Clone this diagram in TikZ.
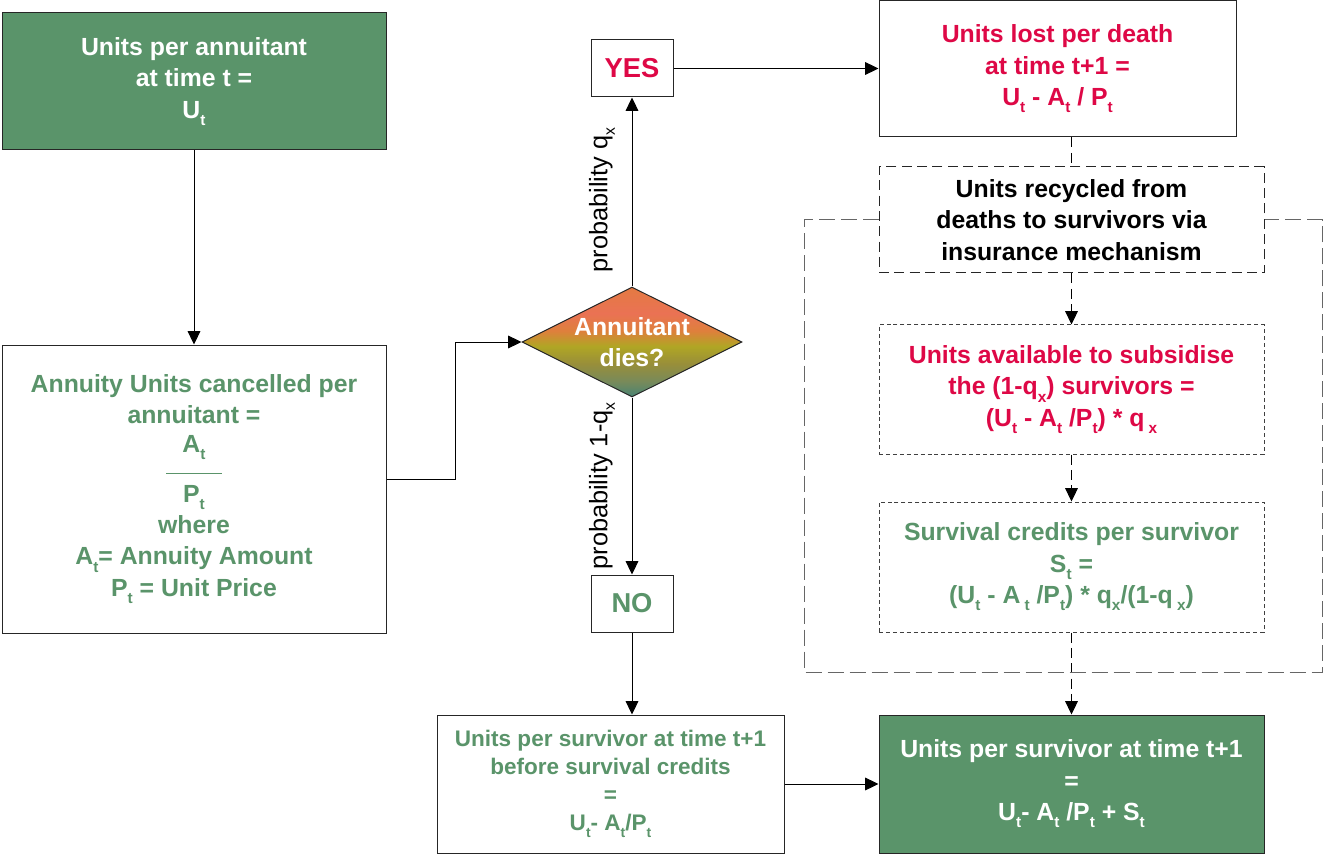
\documentclass[tikz,border=0pt]{standalone}
\usepackage{fontspec}
\setmainfont{Liberation Sans}
\usepackage{tikz}
\usetikzlibrary{positioning}
\usetikzlibrary{arrows.meta}
\usetikzlibrary{shapes.geometric}
\usetikzlibrary{calc}

\definecolor{unitgreen}{RGB}{90,148,106}
\definecolor{deathred}{RGB}{222,8,70}
\definecolor{diesteal}{RGB}{72,132,116}
\definecolor{diesmoss}{RGB}{120,138,90}
\definecolor{diesolive}{RGB}{152,142,58}
\definecolor{diesyellow}{RGB}{176,166,36}
\definecolor{diesorange}{RGB}{222,128,60}
\definecolor{diessalmon}{RGB}{234,114,84}
\definecolor{diestop}{RGB}{228,122,66}

\pgfdeclareverticalshading{diesshading}{100bp}{color(0bp)=(diesteal); color(25bp)=(diesteal); color(32bp)=(diesmoss); color(40bp)=(diesolive); color(48bp)=(diesyellow); color(55bp)=(diesorange); color(63bp)=(diessalmon); color(75bp)=(diestop); color(100bp)=(diestop)}

\newcommand{\boxfont}{\fontsize{18.6pt}{23.5pt}\selectfont\bfseries}
\newcommand{\smallboxfont}{\fontsize{16.9pt}{21pt}\selectfont\bfseries}
\newcommand{\answerfont}{\fontsize{20.5pt}{24pt}\selectfont\bfseries}
\newcommand{\probfont}{\fontsize{19pt}{23pt}\selectfont}
% low subscript as in the drawing
\newcommand{\lowsub}[1]{\raisebox{-0.3em}{\fontsize{0.62em}{0.62em}\selectfont #1}}

\begin{document}
\begin{tikzpicture}[x=0.75pt,y=-0.75pt,>={Triangle[length=10pt,width=9.5pt]},
  box node/.style={rectangle,draw=black!85,line width=0.75pt,fill=white,align=center,inner sep=0pt,font=\boxfont},
  green node/.style={box node,fill=unitgreen,text=white},
  dashed node/.style={box node,dash pattern=on 7.5pt off 4pt},
  dotted node/.style={box node,draw=black!75,dash pattern=on 3pt off 2.2pt},
  answer node/.style={box node,minimum width=61.5pt,minimum height=42.75pt,font=\answerfont},
  decision node/.style={diamond,draw=black!85,line width=0.75pt,shade,shading=diesshading,minimum width=165pt,minimum height=82.5pt,inner sep=0pt},
  prob label/.style={rotate=90,font=\probfont,inner sep=0pt},
  link/.style={->,line width=0.75pt},
  dashed link/.style={link,dash pattern=on 7.5pt off 4pt},
  loop line/.style={draw=black!60,line width=0.75pt,dash pattern=on 12pt off 4.5pt}]
  \useasboundingbox (0,0) rectangle (1323,855);

  % left column
  \node[green node,minimum width=288pt,minimum height=102.75pt] (start) at (194,81.5) {Units per annuitant\\at time t =\\U\lowsub{t}};
  \node[box node,text=unitgreen,minimum width=288pt,minimum height=216pt] (cancel) at (194,489) {Annuity Units cancelled per\\annuitant =\\[-2pt]A\lowsub{t}\\[-7pt]\rule{42pt}{0.7pt}\\[-2.6pt]P\lowsub{t}\\where\\A\lowsub{t}= Annuity Amount\\P\lowsub{t} = Unit Price};

  % decision
  \node[decision node] (dies) at (632,342) {};
  \node[font=\boxfont,text=white,align=center,inner sep=0pt] (diestext) at (dies) {Annuitant\\dies?};
  \node[answer node,text=deathred] (yes) at (632,68.5) {YES};
  \node[answer node,text=unitgreen] (no) at (632,603.5) {NO};
  \node[box node,font=\smallboxfont,text=unitgreen,minimum width=260.25pt,minimum height=103.5pt] (before) at (610.5,784) {Units per survivor at time t+1\\before survival credits\\=\\U\lowsub{t}- A\lowsub{t}/P\lowsub{t}};

  % right column
  \node[box node,text=deathred,minimum width=267.75pt,minimum height=102pt] (death) at (1057.5,69) {Units lost per death\\at time t+1 =\\U\lowsub{t} - A\lowsub{t} / P\lowsub{t}};
  \node[dashed node,minimum width=288.75pt,minimum height=79.5pt] (recycled) at (1071.5,220) {Units recycled from\\deaths to survivors via\\insurance mechanism};
  \node[dotted node,text=deathred,minimum width=288.75pt,minimum height=96.75pt] (avail) at (1071.5,389.5) {Units available to subsidise\\the (1-q\lowsub{x}) survivors =\\(U\lowsub{t} - A\lowsub{t} /P\lowsub{t}) * q\,\lowsub{x}};
  \node[dotted node,text=unitgreen,minimum width=288.75pt,minimum height=97.5pt] (credits) at (1071.5,567) {Survival credits per survivor\\S\lowsub{t} =\\(U\lowsub{t} - A\,\lowsub{t} /P\lowsub{t}) * q\lowsub{x}/(1-q\,\lowsub{x})};
  \node[green node,minimum width=288.75pt,minimum height=103.5pt] (final) at (1071.5,784) {Units per survivor at time t+1\\=\\U\lowsub{t}- A\lowsub{t} /P\lowsub{t} + S\lowsub{t}};

  \coordinate (loop sw) at (804,672);
  \coordinate (loop ne) at (1322,220);

  % connectors
  \draw[link] (start) -- (cancel);
  \draw[link] ([yshift=7.5pt]cancel.east) -- ++(69,0) |- (dies.west);
  \draw[link] (dies.north) -- (yes.south);
  \draw[link] (dies.south) -- (no.north);
  \draw[link] (yes.east) -- (yes.east -| death.west);
  \draw[link] (no.south) -- (no.south |- before.north);
  \draw[link] (before) -- (final);
  \draw[dashed link,-] (recycled.north |- death.south) -- (recycled.north);
  \draw[dashed link] (recycled) -- (avail);
  \draw[dashed link] (avail) -- (credits);
  \draw[dashed link] (credits) -- (final);
  \draw[loop line] (recycled.west) -| (loop sw) -| (loop ne) -- (recycled.east);

  \node[prob label] (pdeath) at ($(dies.north)!0.5!(yes.south)+(-30,8)$) {probability q\lowsub{x}};
  \node[prob label] (psurvive) at ($(dies.south)!0.5!(no.north)+(-30,0)$) {probability 1-q\lowsub{x}};
\end{tikzpicture}
\end{document}
